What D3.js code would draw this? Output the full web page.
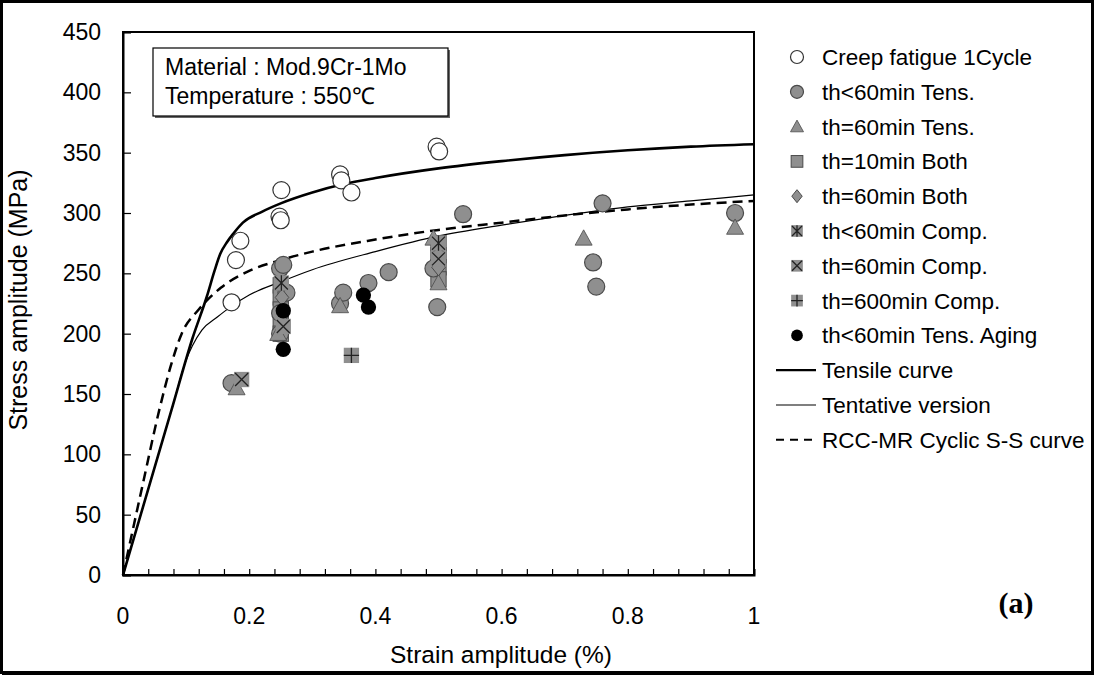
<!DOCTYPE html>
<html><head><meta charset="utf-8">
<script src="https://cdn.jsdelivr.net/npm/d3@7"></script>
<style>body{margin:0;background:#fff}svg{display:block;font-family:"Liberation Sans",Arial,sans-serif}</style>
</head><body><svg id="c" width="1096" height="677"></svg>
<script>
// ---- data ----
const xTicks = [0, 0.2, 0.4, 0.6, 0.8, 1];
const yTicks = [0, 50, 100, 150, 200, 250, 300, 350, 400, 450];
const creep1Cycle = [[0.172,226],[0.179,261],[0.186,277],[0.248,297],[0.250,294],[0.251,319],[0.344,332],[0.346,327],[0.362,317],[0.497,355],[0.501,351]];
const tensLt60 = [[0.172,159],[0.249,254],[0.254,257],[0.259,234],[0.249,217],[0.249,200],[0.344,225],[0.349,234],[0.389,242],[0.421,251],[0.492,254],[0.498,222],[0.539,299],[0.745,259],[0.750,239],[0.760,308],[0.970,300]];
const tensEq60 = [[0.180,155],[0.246,200],[0.344,223],[0.492,279],[0.500,242],[0.730,279],[0.970,288]];
const both10 = [[0.250,240],[0.250,230],[0.250,220],[0.250,210],[0.250,200],[0.500,275],[0.500,265],[0.500,255],[0.500,245]];
const both60 = [[0.252,240],[0.252,230],[0.500,265],[0.500,255]];
const compLt60 = [[0.251,242],[0.500,275]];
const compEq60 = [[0.188,162],[0.254,206],[0.500,272],[0.500,262]];
const comp600 = [[0.362,182]];
const tensAging = [[0.254,219],[0.254,187],[0.381,232],[0.389,222]];
const tensileCurve = [[0,0],[0.077,137],[0.11,196],[0.133,231],[0.145,252],[0.154,266],[0.165,276],[0.175,283],[0.19,292],[0.22,301],[0.25,308],[0.3,317],[0.35,324],[0.4,329],[0.5,337],[0.6,343],[0.7,348],[0.8,352],[0.9,355],[1.0,357]];
const tentativeCurve = [[0,0],[0.077,137],[0.1,178],[0.11,190],[0.125,203],[0.15,214],[0.17,222],[0.2,232],[0.25,243],[0.3,253],[0.4,268],[0.5,281],[0.6,290],[0.7,298],[0.8,305],[0.9,310],[1.0,315]];
const rccCurve = [[0,0],[0.03,72],[0.059,140],[0.075,172],[0.093,200],[0.12,220],[0.155,238],[0.2,252],[0.25,261],[0.3,268],[0.4,278],[0.5,286],[0.6,292],[0.7,298],[0.8,303],[0.9,307],[1.0,310]];
const legendLabels = ["Creep fatigue 1Cycle","th<60min Tens.","th=60min Tens.","th=10min Both","th=60min Both","th<60min Comp.","th=60min Comp.","th=600min Comp.","th<60min Tens. Aging","Tensile curve","Tentative version","RCC-MR Cyclic S-S curve"];

// ---- drawing ----
const svg = d3.select("#c");
const x = d3.scaleLinear().domain([0,1]).range([123,754]);
const y = d3.scaleLinear().domain([0,450]).range([575,32]);
const GF = "#8f8f8f", GS = "#4a4a4a";

// outer frame
svg.append("rect").attr("x",1.5).attr("y",1.5).attr("width",1091).attr("height",671).attr("fill","none").attr("stroke","#000").attr("stroke-width",3);
svg.append("line").attr("x1",1093).attr("x2",1093).attr("y1",2).attr("y2",675).attr("stroke","#000").attr("stroke-width",2);
svg.append("line").attr("x1",2).attr("x2",1094).attr("y1",674).attr("y2",674).attr("stroke","#000").attr("stroke-width",2);

// plot frame
svg.append("rect").attr("x",123).attr("y",32).attr("width",631).attr("height",543).attr("fill","none").attr("stroke","#000").attr("stroke-width",2);

// axes
const xAxis = d3.axisBottom(x).tickValues(d3.range(0,1.0001,0.04)).tickSize(-6).tickFormat("");
const gx = svg.append("g").attr("transform","translate(0,575)").call(xAxis);
gx.select(".domain").attr("stroke-width",2);
gx.selectAll(".tick line").attr("stroke-width",1.2);
const yAxis = d3.axisLeft(y).tickValues(yTicks).tickSize(-8).tickFormat("");
const gy = svg.append("g").attr("transform","translate(123,0)").call(yAxis);
gy.select(".domain").attr("stroke-width",2);
gy.selectAll(".tick line").attr("stroke-width",1.2);

svg.selectAll(".xl").data(xTicks).join("text").attr("x",d=>x(d)).attr("y",624)
  .attr("text-anchor","middle").attr("font-size",23).text(d=>d);
svg.selectAll(".yl").data(yTicks).join("text").attr("x",101).attr("y",d=>y(d)+8)
  .attr("text-anchor","end").attr("font-size",23).text(d=>d);

svg.append("text").attr("x",501).attr("y",663).attr("text-anchor","middle").attr("font-size",24.5).text("Strain amplitude (%)");
svg.append("text").attr("transform","translate(27,300) rotate(-90)").attr("text-anchor","middle").attr("font-size",25).text("Stress amplitude (MPa)");

// curves
const line = d3.line().x(d=>x(d[0])).y(d=>y(d[1])).curve(d3.curveMonotoneX);
svg.append("path").attr("d",line(rccCurve)).attr("fill","none").attr("stroke","#000").attr("stroke-width",2.5).attr("stroke-dasharray","10,6");
svg.append("path").attr("d",line(tentativeCurve)).attr("fill","none").attr("stroke","#000").attr("stroke-width",1.2);
svg.append("path").attr("d",line(tensileCurve)).attr("fill","none").attr("stroke","#000").attr("stroke-width",2.6);

// marker drawing
function marker(g, type, cx, cy, s){
  const r = s/2;
  if(type==="open"){ g.append("circle").attr("cx",cx).attr("cy",cy).attr("r",r).attr("fill","#fff").attr("stroke","#333").attr("stroke-width",1.2); }
  else if(type==="gcircle"){ g.append("circle").attr("cx",cx).attr("cy",cy).attr("r",r).attr("fill",GF).attr("stroke",GS).attr("stroke-width",1.2); }
  else if(type==="black"){ g.append("circle").attr("cx",cx).attr("cy",cy).attr("r",r*0.9).attr("fill","#000"); }
  else if(type==="tri"){ g.append("path").attr("d",`M${cx},${cy-r}L${cx+r},${cy+r*0.8}L${cx-r},${cy+r*0.8}Z`).attr("fill",GF).attr("stroke",GS).attr("stroke-width",0.8); }
  else if(type==="sq"){ g.append("rect").attr("x",cx-r*0.9).attr("y",cy-r*0.9).attr("width",r*1.8).attr("height",r*1.8).attr("fill",GF).attr("stroke",GS).attr("stroke-width",1); }
  else if(type==="dia"){ g.append("path").attr("d",`M${cx},${cy-r}L${cx+r*0.8},${cy}L${cx},${cy+r}L${cx-r*0.8},${cy}Z`).attr("fill",GF).attr("stroke",GS).attr("stroke-width",1); }
  else {
    const q = r*0.9;
    g.append("rect").attr("x",cx-q).attr("y",cy-q).attr("width",2*q).attr("height",2*q).attr("fill",GF).attr("stroke","none");
    const p = q*0.85;
    let d = "";
    if(type==="ast") d = `M${cx-p},${cy-p}L${cx+p},${cy+p}M${cx+p},${cy-p}L${cx-p},${cy+p}M${cx},${cy-q}L${cx},${cy+q}`;
    if(type==="x") d = `M${cx-p},${cy-p}L${cx+p},${cy+p}M${cx+p},${cy-p}L${cx-p},${cy+p}`;
    if(type==="plus") d = `M${cx},${cy-q}L${cx},${cy+q}M${cx-q},${cy}L${cx+q},${cy}`;
    g.append("path").attr("d",d).attr("stroke","#222").attr("stroke-width",1.3).attr("fill","none");
  }
}
const series = [
  {data:both10,type:"sq"},
  {data:tensLt60,type:"gcircle"},
  {data:tensEq60,type:"tri"},
  {data:both60,type:"dia"},
  {data:compEq60,type:"x"},
  {data:compLt60,type:"ast"},
  {data:comp600,type:"plus"},
  {data:tensAging,type:"black"},
  {data:creep1Cycle,type:"open"}
];
const gm = svg.append("g");
series.forEach(s=>s.data.forEach(d=>marker(gm,s.type,x(d[0]),y(d[1]),17)));

// legend
const legTypes = ["open","gcircle","tri","sq","dia","ast","x","plus","black"];
const lg = svg.append("g");
legendLabels.forEach((lab,i)=>{
  const ly = 57 + i*34.8;
  if(i<9) marker(lg, legTypes[i], 797, ly, 13);
  else {
    const l = lg.append("line").attr("x1",776).attr("x2",816).attr("y1",ly).attr("y2",ly).attr("stroke","#000");
    if(i===9) l.attr("stroke-width",2.2);
    if(i===10) l.attr("stroke-width",1.2);
    if(i===11) l.attr("stroke-width",2).attr("stroke-dasharray","8,6");
  }
  lg.append("text").attr("x",822).attr("y",ly+8).attr("font-size",22.5).text(lab);
});

// annotation box
svg.append("rect").attr("x",155).attr("y",50).attr("width",295).attr("height",68).attr("fill","#666");
svg.append("rect").attr("x",153).attr("y",48).attr("width",295).attr("height",68).attr("fill","#fff").attr("stroke","#000").attr("stroke-width",1.2);
svg.append("text").attr("x",165).attr("y",75).attr("font-size",23).text("Material : Mod.9Cr-1Mo");
svg.append("text").attr("x",165).attr("y",104).attr("font-size",23).text("Temperature : 550℃");

svg.append("text").attr("x",1016).attr("y",613).attr("text-anchor","middle").attr("font-size",30).attr("font-weight","bold").attr("font-family","Liberation Serif, serif").text("(a)");
</script></body></html>
